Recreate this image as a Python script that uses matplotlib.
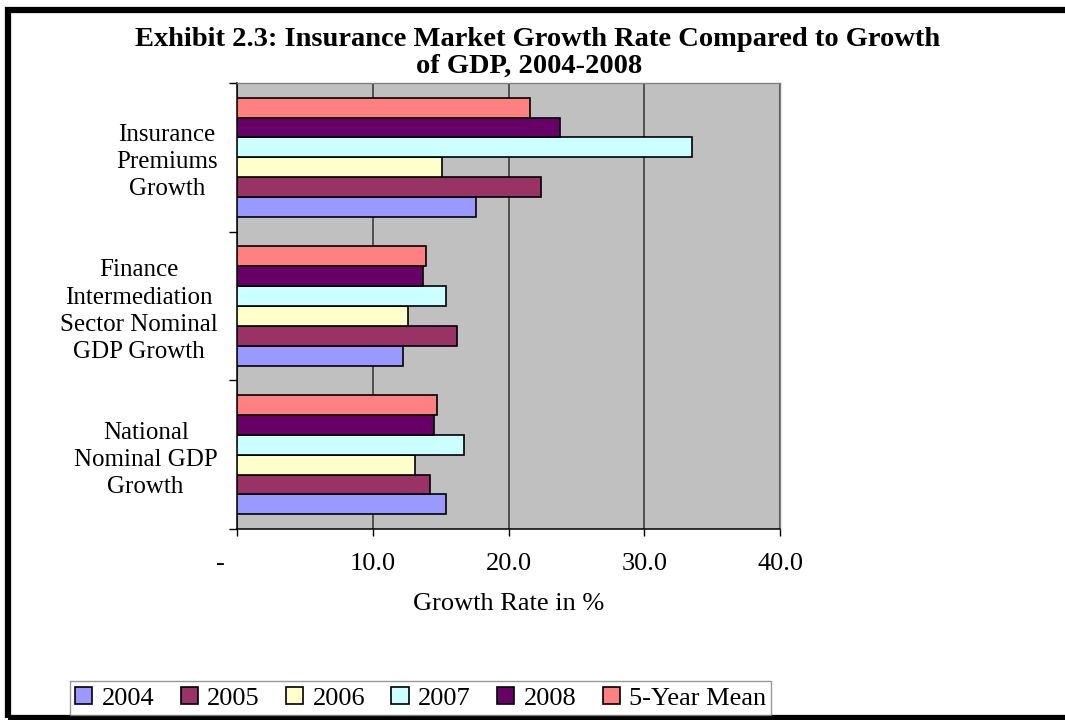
"""
Exhibit 2.3: insurance premium growth against GDP growth, 2004-2008.
Clustered horizontal bars, one cluster per indicator.
"""
import matplotlib
matplotlib.use("Agg")
import matplotlib.pyplot as plt
from matplotlib.patches import Rectangle
import numpy as np

plt.rcParams["font.family"] = ["Liberation Serif", "DejaVu Serif"]

# indicators, top to bottom
categories = [
    "Insurance\nPremiums\nGrowth",
    "Finance\nIntermediation\nSector Nominal\nGDP Growth",
    "National\nNominal GDP\nGrowth",
]
series_names = ["2004", "2005", "2006", "2007", "2008", "5-Year Mean"]

# growth rates in %, one list per indicator (same order as series_names)
insurance_premiums = [17.6, 22.4, 15.1, 33.5, 23.8, 21.6]
finance_gdp = [12.2, 16.2, 12.6, 15.4, 13.7, 13.9]
national_gdp = [15.4, 14.2, 13.1, 16.7, 14.5, 14.7]

series_colors = ["#9999FF", "#993366", "#FFFFCC", "#CCFFFF", "#660066", "#FF8080"]

xticks = [0, 10, 20, 30, 40]
xtick_labels = ["-     ", "10.0", "20.0", "30.0", "40.0"]

values = np.array([insurance_premiums, finance_gdp, national_gdp])

fig = plt.figure(figsize=(10.65, 7.2), dpi=100)
ax = fig.add_axes([237 / 1065, 1 - 529 / 720, 543 / 1065, 446 / 720])
ax.set_facecolor("#C0C0C0")

# cluster centres: first indicator at the top
centers = np.arange(len(categories))[::-1].astype(float)
bar_h = 0.1335
n = len(series_names)
for k, (name, color) in enumerate(zip(series_names, series_colors)):
    offset = (k - (n - 1) / 2) * bar_h
    ax.barh(centers + offset, values[:, k], height=bar_h, color=color,
            edgecolor="black", linewidth=1.2, label=name, zorder=3)

ax.set_xlim(0, 40)
ax.set_ylim(-0.5, len(categories) - 0.5)

ax.set_xticks(xticks)
ax.set_xticklabels(xtick_labels, fontsize=19)
ax.tick_params(axis="x", direction="out", length=5, width=1, pad=12)
ax.xaxis.grid(True, color="#333333", linewidth=1.1, zorder=1)
ax.set_axisbelow(True)

# cluster boundaries get tick marks, centres get the labels
ax.set_yticks(np.arange(-0.5, len(categories)), minor=True)
ax.tick_params(axis="y", which="minor", direction="out", length=6, width=1)
ax.set_yticks(centers)
ax.set_yticklabels(categories, fontsize=18, linespacing=1.3)
ax.tick_params(axis="y", which="major", length=0, pad=14)
for lbl in ax.get_yticklabels():
    lbl.set_multialignment("center")

for side in ("left", "bottom"):
    ax.spines[side].set_color("black")
    ax.spines[side].set_linewidth(1.1)
for side in ("top", "right"):
    ax.spines[side].set_color("#808080")
    ax.spines[side].set_linewidth(1.0)

ax.set_xlabel("Growth Rate in %", fontsize=19, labelpad=13)

fig.text(0.505, 1 - 46 / 720,
         "Exhibit 2.3: Insurance Market Growth Rate Compared to Growth",
         ha="center", va="baseline", fontsize=20.5, fontweight="bold")
fig.text(0.497, 1 - 73 / 720, "of GDP, 2004-2008",
         ha="center", va="baseline", fontsize=20.5, fontweight="bold")

fig.legend(loc="lower left", bbox_to_anchor=(70 / 1065, 5 / 720), ncol=6,
           fontsize=19, frameon=True, fancybox=False, edgecolor="#808080",
           handlelength=0.65, handleheight=0.65, handletextpad=0.35,
           columnspacing=1.0, borderpad=0.2, borderaxespad=0)

# heavy frame around the exhibit (runs off the right edge)
fig.add_artist(Rectangle((7.5 / 1065, 2.5 / 720), 1.02, 1 - 12 / 720,
                         transform=fig.transFigure, fill=False,
                         edgecolor="black", linewidth=4.5, clip_on=False))

fig.savefig("out.png", dpi=100)
